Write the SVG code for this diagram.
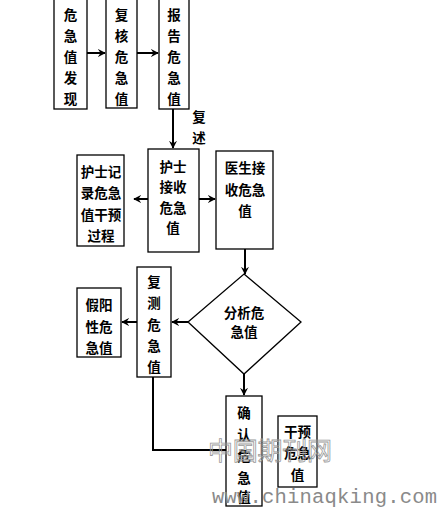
<svg xmlns="http://www.w3.org/2000/svg" width="439" height="509" viewBox="0 0 439 509">
<style>
.box{fill:#fff;stroke:#000;stroke-width:1.3}
.t{font-family:"Noto Sans CJK SC","Noto Sans",sans-serif;font-size:13.5px;font-weight:bold;fill:#000;text-anchor:middle}
.c{fill:none;stroke:#000;stroke-width:2}
.wm{font-family:"Noto Sans CJK SC",sans-serif;fill:none;stroke:#999;stroke-width:0.8}
.wm2{font-family:"Liberation Mono",monospace;fill:#8a8a8a}
</style>
<defs>
<marker id="ah" viewBox="0 0 10 10" refX="9" refY="5" markerWidth="8" markerHeight="8" orient="auto" markerUnits="userSpaceOnUse">
<path d="M0,0 L10,5 L0,10 L3.5,5 Z" fill="#000"/>
</marker>
</defs>
<rect width="439" height="509" fill="#fff"/>
<g id="connectors">
<line class="c" x1="87" y1="53" x2="105" y2="53" marker-end="url(#ah)"/>
<line class="c" x1="137" y1="53" x2="158" y2="53" marker-end="url(#ah)"/>
<line class="c" x1="173" y1="109" x2="173" y2="148" marker-end="url(#ah)"/>
<line class="c" x1="148" y1="199" x2="134" y2="199" marker-end="url(#ah)"/>
<line class="c" x1="199" y1="199" x2="215" y2="199" marker-end="url(#ah)"/>
<line class="c" x1="245" y1="249" x2="245" y2="274" marker-end="url(#ah)"/>
<line class="c" x1="188" y1="322" x2="172" y2="322" marker-end="url(#ah)"/>
<line class="c" x1="137" y1="322" x2="122" y2="322" marker-end="url(#ah)"/>
<line class="c" x1="244" y1="374" x2="244" y2="395" marker-end="url(#ah)"/>
<polyline class="c" points="153,377 153,450 226,450"/>
<text x="199" y="122" class="t">复</text>
<text x="199" y="143" class="t">述</text>
</g>
<g id="n1"><rect class="box" x="54" y="-3" width="33" height="112"/>
<text class="t" x="70.5" y="20">危</text><text class="t" x="70.5" y="41">急</text><text class="t" x="70.5" y="62">值</text><text class="t" x="70.5" y="83">发</text><text class="t" x="70.5" y="104">现</text></g>
<g id="n2"><rect class="box" x="106" y="-3" width="31" height="111"/>
<text class="t" x="121.5" y="20">复</text><text class="t" x="121.5" y="41">核</text><text class="t" x="121.5" y="62">危</text><text class="t" x="121.5" y="83">急</text><text class="t" x="121.5" y="104">值</text></g>
<g id="n3"><rect class="box" x="159" y="-3" width="30" height="112"/>
<text class="t" x="174" y="20">报</text><text class="t" x="174" y="41">告</text><text class="t" x="174" y="62">危</text><text class="t" x="174" y="83">急</text><text class="t" x="174" y="104">值</text></g>
<g id="n4"><rect class="box" x="148" y="149" width="51" height="103"/>
<text class="t" x="173" y="172">护士</text><text class="t" x="173" y="192">接收</text><text class="t" x="173" y="213">危急</text><text class="t" x="173" y="233">值</text></g>
<g id="n5"><rect class="box" x="77" y="155" width="47" height="91"/>
<text class="t" x="101" y="177">护士记</text><text class="t" x="101" y="198">录危急</text><text class="t" x="101" y="220">值干预</text><text class="t" x="101" y="241">过程</text></g>
<g id="n6"><rect class="box" x="216" y="151" width="57" height="98"/>
<text class="t" x="245" y="173">医生接</text><text class="t" x="245" y="195">收危急</text><text class="t" x="245" y="216">值</text></g>
<g id="n7"><polygon class="box" points="244,274 301,322 244,374 188,322"/>
<text class="t" x="244" y="318">分析危</text><text class="t" x="244" y="337">急值</text></g>
<g id="n8"><rect class="box" x="137" y="267" width="34" height="110"/>
<text class="t" x="154" y="287">复</text><text class="t" x="154" y="308">测</text><text class="t" x="154" y="330">危</text><text class="t" x="154" y="351">急</text><text class="t" x="154" y="372">值</text></g>
<g id="n9"><rect class="box" x="77" y="288" width="44" height="69"/>
<text class="t" x="99" y="310">假阳</text><text class="t" x="99" y="332">性危</text><text class="t" x="99" y="353">急值</text></g>
<g id="n10"><rect class="box" x="226" y="396" width="36" height="110"/>
<text class="t" x="244" y="418">确</text><text class="t" x="244" y="440">认</text><text class="t" x="244" y="461">危</text><text class="t" x="244" y="483">急</text><text class="t" x="244" y="502">值</text></g>
<g id="n11"><rect class="box" x="278" y="416" width="39" height="71"/>
<text class="t" x="297.5" y="437">干预</text><text class="t" x="297.5" y="458">危急</text><text class="t" x="297.5" y="480">值</text></g>
<g id="watermark">
<text class="wm" x="208" y="460" font-size="25" textLength="124">中国期刊网</text>
<text class="wm2" x="212" y="503" font-size="20.5" textLength="225">www.chinaqking.com</text>
</g>
</svg>
